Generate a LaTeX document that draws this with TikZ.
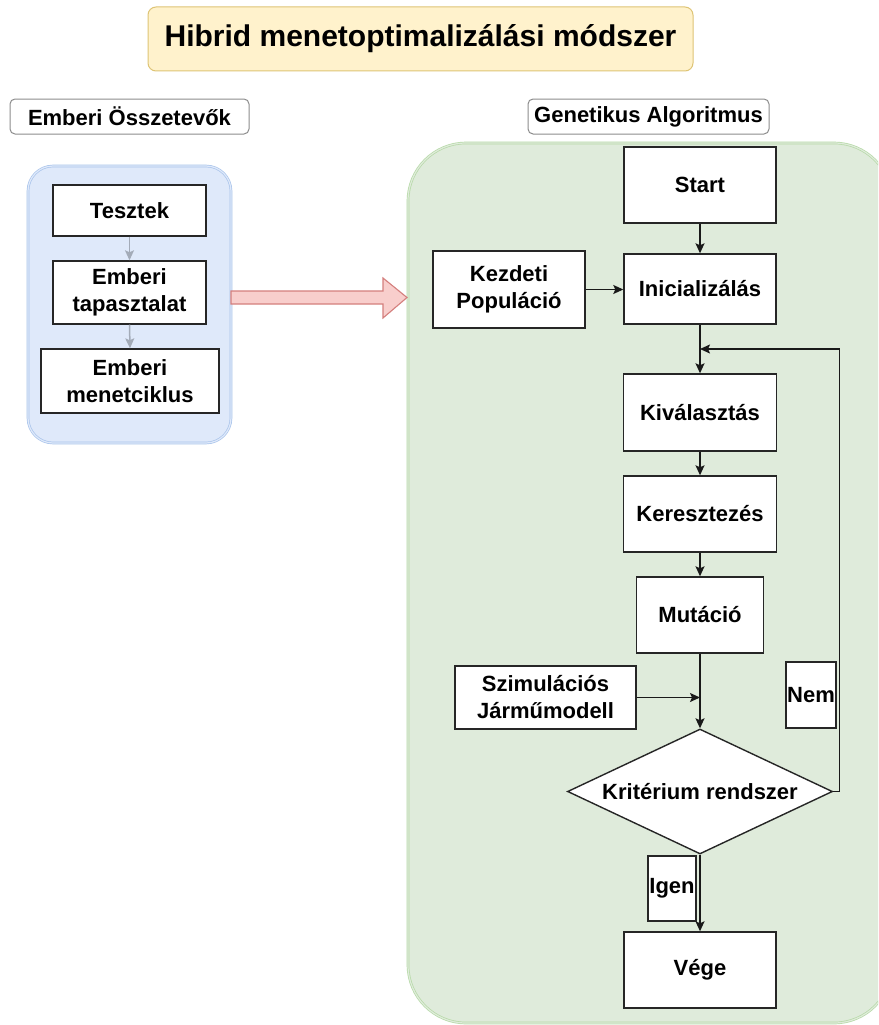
\documentclass[tikz,border=0pt]{standalone}
\usepackage{fontspec}
\setmainfont{Liberation Sans}
\usetikzlibrary{arrows.meta,shapes.geometric}
\definecolor{titlefill}{HTML}{FFF2CC}
\definecolor{titledraw}{HTML}{DEC475}
\definecolor{bluefill}{HTML}{DFE9FA}
\definecolor{bluedraw}{HTML}{A9C4EB}
\definecolor{greenfill}{HTML}{DFEBDB}
\definecolor{greendraw}{HTML}{B5D9A5}
\definecolor{redfill}{HTML}{F8CECC}
\definecolor{reddraw}{HTML}{D47F7D}
\definecolor{grayarrow}{HTML}{A3ABB8}
\begin{document}
\begin{tikzpicture}[x=1pt,y=-1pt,
  lbl/.style={font=\fontsize{22}{27}\selectfont\bfseries, align=center, inner sep=0pt},
  box/.style={lbl, draw=black!85, fill=white, line width=1.4pt},
  tag/.style={lbl, draw=black!45, fill=white, line width=1pt, rounded corners=5pt},
  conn/.style={line width=1.4pt, draw=black!90, -{Stealth[length=10pt,width=9pt,inset=2pt]}},
  gconn/.style={line width=1.5pt, draw=grayarrow, -{Stealth[length=10pt,width=9pt,inset=2pt]}},
  container/.style={line width=0.7pt, double distance=1.2pt}
]
\clip (0,0) rectangle (878,1025);
\fill[white] (0,0) rectangle (878,1025);

% title
\node[lbl, draw=titledraw, fill=titlefill, line width=1pt, rounded corners=8pt,
  minimum width=545pt, minimum height=64pt, font=\fontsize{30}{36}\selectfont\bfseries]
  (title) at (420.5,39) {Hibrid menetoptimalizálási módszer};

% section labels
\node[tag, minimum width=239pt, minimum height=35pt] (hlabel) at (129.5,116.5) {Emberi Összetevők};
\node[tag, minimum width=241pt, minimum height=35pt] (glabel) at (648.5,116.5) {Genetikus Algoritmus};

% containers
\node[container, draw=bluedraw, double=bluefill, fill=bluefill, rounded corners=25pt,
  minimum width=203pt, minimum height=277pt, inner sep=0pt] (blue) at (129.5,304.5) {};
\node[container, draw=greendraw, double=greenfill, fill=greenfill, rounded corners=58pt,
  minimum width=484pt, minimum height=880pt, inner sep=0pt] (green) at (650,583) {};

% human components
\node[box, minimum width=153pt, minimum height=51pt] (tesztek) at (129.5,210.5) {Tesztek};
\node[box, minimum width=153pt, minimum height=63pt] (tapasz) at (129.5,292.5) {Emberi\\tapasztalat};
\node[box, minimum width=178pt, minimum height=64pt] (menet) at (130,381) {Emberi\\menetciklus};
\draw[gconn] (tesztek.south) -- (tapasz.north);
\draw[gconn] (tapasz.south) -- (menet.north);

% big red arrow
\coordinate (ra) at (231,291);
\draw[fill=redfill, draw=reddraw, line width=1.1pt, line join=miter]
  (ra) -- ++(152,0) -- ++(0,-13) -- ++(24,19.5) -- ++(-24,20.5) -- ++(0,-14) -- ++(-152,0) -- cycle;

% genetic algorithm
\node[box, minimum width=152pt, minimum height=76pt] (start) at (700,185) {Start};
\node[box, minimum width=152pt, minimum height=70pt] (init) at (700,289) {Inicializálás};
\node[box, minimum width=152pt, minimum height=77pt] (kezd) at (509,289.5) {Kezdeti\\Populáció};
\node[box, minimum width=153pt, minimum height=77pt] (kival) at (700,412.5) {Kiválasztás};
\node[box, minimum width=153pt, minimum height=76pt] (kereszt) at (700,514) {Keresztezés};
\node[box, minimum width=127pt, minimum height=76pt] (mut) at (700,615) {Mutáció};
\node[box, minimum width=181pt, minimum height=63pt] (szim) at (545.5,697.5) {Szimulációs\\Járműmodell};
\node[box, diamond, minimum width=265pt, minimum height=125pt] (krit) at (700,791.5)
  {\makebox[0pt]{Kritérium rendszer}};
\node[box, minimum width=50pt, minimum height=66pt] (nem) at (811,695) {Nem};
\node[box, minimum width=48pt, minimum height=65pt] (igen) at (672,888.5) {Igen};
\node[box, minimum width=152pt, minimum height=76pt] (vege) at (700,970) {Vége};

\coordinate (loopin) at (700,349);
\draw[conn] (start.south) -- (init.north);
\draw[conn] (kezd.east) -- (kezd.east -| init.west);
\draw[conn] (init.south) -- (kival.north);
\draw[conn] (krit.east) -- ++(6,0) |- (loopin);
\draw[conn] (kival.south) -- (kereszt.north);
\draw[conn] (kereszt.south) -- (mut.north);
\draw[conn] (mut.south) -- (krit.north);
\draw[conn] (szim.east) -- (szim.east -| mut.south);
\draw[conn] (krit.south) -- (vege.north);
\end{tikzpicture}
\end{document}
